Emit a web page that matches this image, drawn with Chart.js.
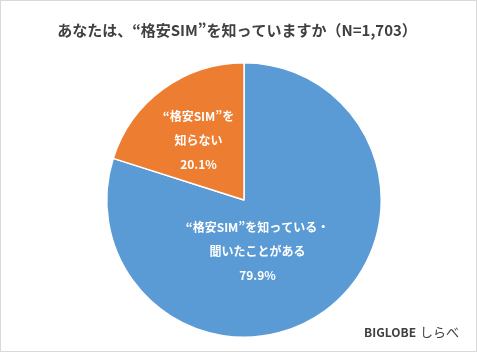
<!DOCTYPE html>
<html lang="ja">
<head>
<meta charset="utf-8">
<script src="https://cdn.jsdelivr.net/npm/chart.js@4/dist/chart.umd.min.js"></script>
<style>
html,body{margin:0;padding:0;background:#fff;}
#wrap{position:relative;width:477px;height:352px;}
</style>
</head>
<body>
<div id="wrap"><canvas id="c" width="477" height="352"></canvas></div>
<script>
const titleText = 'あなたは、“格安SIM”を知っていますか（N=1,703）';
const categories = ['“格安SIM”を知っている・聞いたことがある', '“格安SIM”を知らない'];
const labelLines = [['“格安SIM”を知っている・', '聞いたことがある'], ['“格安SIM”を', '知らない']];
const values = [79.9, 20.1];
const valueLabels = ['79.9%', '20.1%'];
const colors = ['#5B9BD5', '#ED7D31'];
const sourceText = ['BIGLOBE', 'しらべ'];

const FONT = '"Noto Sans CJK JP", "Noto Sans", sans-serif';
const labelOffsets = [[-27, -4], [-5, -4]];

const decor = {
  id: 'decor',
  beforeDraw(chart) {
    const ctx = chart.ctx;
    ctx.save();
    ctx.fillStyle = '#ffffff';
    ctx.fillRect(0, 0, chart.width, chart.height);
    ctx.restore();
  },
  afterDraw(chart) {
    const ctx = chart.ctx;
    ctx.save();
    // border
    ctx.strokeStyle = '#d9d9d9';
    ctx.lineWidth = 1;
    ctx.strokeRect(0.5, 0.5, chart.width - 1, chart.height - 1);
    // title
    ctx.fillStyle = '#404040';
    ctx.font = 'bold 15px ' + FONT;
    ctx.textAlign = 'center';
    ctx.textBaseline = 'middle';
    ctx.fillText(titleText, 237, 30);
    // slice labels
    const meta = chart.getDatasetMeta(0);
    meta.data.forEach((arc, i) => {
      const p = arc.getCenterPoint();
      const x = p.x + labelOffsets[i][0];
      const y = p.y + labelOffsets[i][1];
      const lines = labelLines[i].concat([valueLabels[i]]);
      ctx.fillStyle = '#ffffff';
      ctx.font = 'bold 12px ' + FONT;
      const lh = 24;
      const start = y - (lines.length - 1) * lh / 2;
      lines.forEach((t, k) => ctx.fillText(t, x, start + k * lh));
    });
    // source
    ctx.fillStyle = '#404040';
    ctx.textAlign = 'left';
    ctx.font = 'bold 12px ' + FONT;
    const w1 = ctx.measureText(sourceText[0]).width;
    ctx.fillText(sourceText[0], 364, 332);
    ctx.font = '13px ' + FONT;
    ctx.fillText(sourceText[1], 364 + w1 + 4, 332);
    ctx.restore();
  }
};

new Chart(document.getElementById('c'), {
  type: 'pie',
  data: {
    labels: categories,
    datasets: [{
      data: values,
      backgroundColor: colors,
      borderColor: '#ffffff',
      borderWidth: 1.5
    }]
  },
  options: {
    responsive: false,
    animation: false,
    layout: { padding: { top: 62, bottom: 14, left: 11, right: 0 } },
    plugins: {
      legend: { display: false },
      title: { display: false },
      tooltip: { enabled: false }
    }
  },
  plugins: [decor]
});
</script>
</body>
</html>
